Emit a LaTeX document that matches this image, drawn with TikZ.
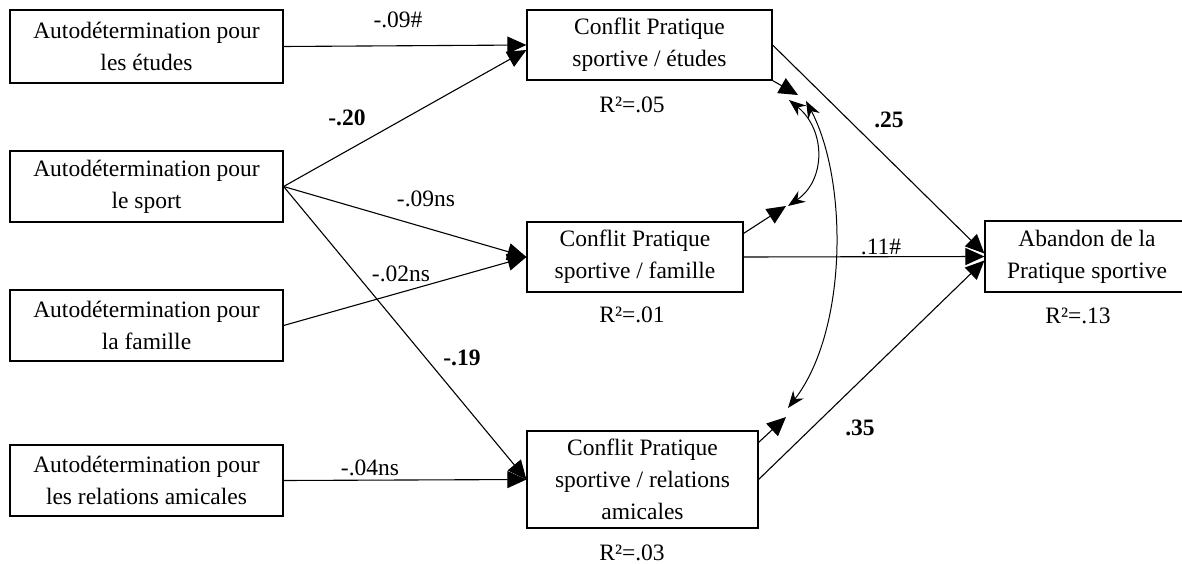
\documentclass[tikz,border=0pt]{standalone}
\usepackage{fontspec}
\setmainfont{Liberation Serif}
\usetikzlibrary{arrows.meta}
\begin{document}
\begin{tikzpicture}[x=1pt,y=-1pt,
  box/.style={draw, line width=1.2pt, inner sep=0pt, align=center, font=\fontsize{23.5}{32}\selectfont},
  lbl/.style={inner sep=0pt, font=\fontsize{23.5}{28}\selectfont},
  blbl/.style={inner sep=0pt, font=\fontsize{23.5}{28}\selectfont\bfseries},
  conn/.style={line width=1.1pt, -{Triangle[length=19pt,width=17pt]}},
  cov/.style={line width=1pt, {Stealth[length=17pt,width=13pt]}-{Stealth[length=17pt,width=13pt]}}
]
\useasboundingbox (0,0) rectangle (1182,564);
\fill[white] (0,0) rectangle (1182,564);

% left boxes
\node[box, minimum width=273pt, minimum height=73pt] (L1) at (146.5,46.5) {Autodétermination pour\\les études};
\node[box, minimum width=273pt, minimum height=71pt] (L2) at (146.5,186.5) {Autodétermination pour\\le sport};
\node[box, minimum width=273pt, minimum height=71pt] (L3) at (146.5,325.5) {Autodétermination pour\\la famille};
\node[box, minimum width=273pt, minimum height=71pt] (L4) at (146.5,480.5) {Autodétermination pour\\les relations amicales};

% middle boxes
\node[box, minimum width=245pt, minimum height=70pt] (M1) at (649.5,45) {Conflit Pratique\\sportive / études};
\node[box, minimum width=216pt, minimum height=70pt] (M2) at (635,257) {Conflit Pratique\\sportive / famille};
\node[box, minimum width=231pt, minimum height=97pt] (M3) at (642.5,479.5) {Conflit Pratique\\sportive / relations\\amicales};

% outcome
\node[box, minimum width=204pt, minimum height=71pt] (Ab) at (1087,256.5) {Abandon de la\\Pratique sportive};

% R2 labels
\node[lbl] (r1) at (632,105) {R²=.05};
\node[lbl] (r2) at (632,315) {R²=.01};
\node[lbl] (r3) at (632,553) {R²=.03};
\node[lbl] (r4) at (1078,316) {R²=.13};

% coefficient labels
\node[lbl] (c1) at (398,20) {-.09\#};
\node[blbl] (c2) at (347,118) {-.20};
\node[lbl] (c3) at (426,199) {-.09ns};
\node[lbl] (c4) at (401,274) {-.02ns};
\node[blbl] (c5) at (462,358) {-.19};
\node[lbl] (c6) at (370,468) {-.04ns};
\node[blbl] (c7) at (889,120) {.25};
\node[lbl] (c8) at (881,247) {.11\#};
\node[blbl] (c9) at (860,428) {.35};

% paths
\draw[conn] (L1.east) -- (M1.west);
\draw[conn] (L2.east) -- ([yshift=-5pt]M1.west);
\draw[conn] (L2.east) -- (M2.west);
\draw[conn] (L2.east) -- (M3.west);
\draw[conn] (L3.east) -- (M2.west);
\draw[conn] (L4.east) -- (M3.west);

\draw[conn] (M1.east) -- ([yshift=3pt]Ab.west);
\draw[conn] (M2.east) -- (Ab.west);
\draw[conn] (M3.east) -- ([yshift=-4pt]Ab.west);

% residual arrows
\coordinate (e1) at (798,95);
\coordinate (e2) at (786,206);
\coordinate (e3) at (786,417);
\draw[conn] (M1.south east) -- (e1);
\draw[conn] ([yshift=-12pt]M2.north east) -- (e2);
\draw[conn] ([yshift=-12pt]M3.north east) -- (e3);

% covariances
\coordinate (a1) at (789,100);
\coordinate (a2) at (788,206);
\coordinate (b1) at (806,101);
\coordinate (b2) at (788,408);
\draw[cov] (a1) .. controls (826,130) and (826,180) .. (a2);
\draw[cov] (b1) .. controls (848,180) and (848,330) .. (b2);
\end{tikzpicture}
\end{document}
